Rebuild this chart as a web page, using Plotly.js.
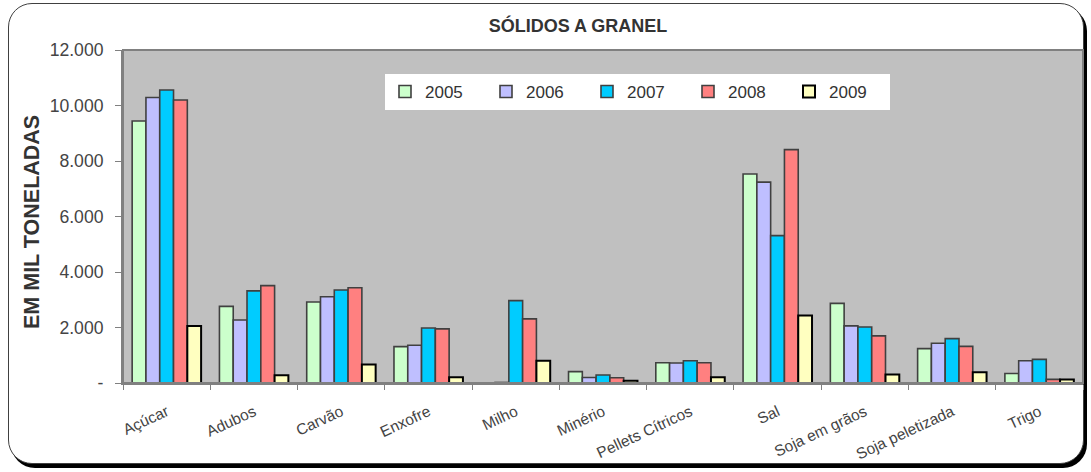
<!DOCTYPE html>
<html>
<head>
<meta charset="utf-8">
<script src="https://cdn.plot.ly/plotly-3.0.1.min.js"></script>
<style>
  html, body { margin: 0; padding: 0; background: #ffffff; }
  #wrap { position: relative; width: 1091px; height: 472px; overflow: hidden; }
  #frame { position: absolute; left: 8px; top: 3px; width: 1074px; height: 459px;
           border: 1.5px solid #404040; border-radius: 24px; box-shadow: 3px 4px 0 #000; background: #fff; }
  #chart { position: absolute; left: 0; top: 0; width: 1091px; height: 472px; }
</style>
</head>
<body>
<div id="wrap">
  <div id="frame"></div>
  <div id="chart"></div>
</div>
<script>
const categories = ["Açúcar", "Adubos", "Carvão", "Enxofre", "Milho", "Minério",
  "Pellets Cítricos", "Sal", "Soja em grãos", "Soja peletizada", "Trigo"];
const years = ["2005", "2006", "2007", "2008", "2009"];
const v2005 = [9440, 2760, 2920, 1310, 0, 410, 730, 7530, 2870, 1240, 340];
const v2006 = [10290, 2270, 3110, 1360, 20, 200, 720, 7240, 2060, 1430, 800];
const v2007 = [10560, 3320, 3350, 1980, 2970, 290, 800, 5310, 2020, 1600, 850];
const v2008 = [10200, 3510, 3430, 1950, 2310, 190, 730, 8410, 1700, 1320, 130];
const v2009 = [2050, 280, 670, 210, 800, 80, 210, 2430, 310, 390, 130];
const yTicks = [0, 2000, 4000, 6000, 8000, 10000, 12000];
const yTickText = ["-", "2.000", "4.000", "6.000", "8.000", "10.000", "12.000"];

const series = [v2005, v2006, v2007, v2008, v2009];
const fills = ["#CCFFCC", "#BFBFFF", "#00CCFF", "#FF8080", "#FFFFC0"];
const lines = ["#404040", "#404040", "#404040", "#404040", "#000000"];
const lineW = [1.6, 1.6, 1.6, 1.6, 2];

const REG = "Liberation Sans, Arial, sans-serif";

const traces = series.map((vals, i) => ({
  type: "bar",
  name: years[i],
  x: categories,
  y: vals,
  marker: { color: fills[i], line: { color: lines[i], width: lineW[i] } },
  hoverinfo: "x+y+name"
}));

const W = 1091, H = 472;
const L = 123, R = W - 1083, T = 50, B = H - 383;
const pw = W - L - R, ph = H - T - B;

const layout = {
  width: W, height: H,
  margin: { l: L, r: R, t: T, b: B, pad: 0 },
  paper_bgcolor: "rgba(0,0,0,0)",
  plot_bgcolor: "#C0C0C0",
  barmode: "group",
  bargap: 0.21,
  bargroupgap: 0,
  font: { family: REG, color: "#3a3a3a" },
  title: {
    text: "<b>SÓLIDOS A GRANEL</b>",
    font: { size: 18, color: "#333333", family: REG },
    x: 578 / W, xref: "container", xanchor: "center",
    y: 1 - 26 / H, yref: "container", yanchor: "middle"
  },
  xaxis: {
    type: "category",
    tickangle: -25,
    ticks: "outside",
    tickson: "boundaries",
    ticklen: 5,
    tickcolor: "#808080",
    showline: true, linecolor: "#808080", linewidth: 2,
    tickfont: { size: 15.5, color: "#444444", family: REG },
    ticklabelstandoff: 12,
    showgrid: false, zeroline: false,
    automargin: false
  },
  yaxis: {
    range: [0, 12000],
    tickvals: yTicks,
    ticktext: yTickText,
    ticks: "outside",
    ticklen: 6,
    tickcolor: "#808080",
    showline: true, linecolor: "#808080", linewidth: 2,
    tickfont: { size: 17.6, color: "#444444", family: REG },
    ticklabelstandoff: 8,
    showgrid: false, zeroline: false,
    automargin: false
  },
  annotations: [
    { text: "<b>EM MIL TONELADAS</b>", textangle: -90, showarrow: false,
      xref: "paper", yref: "paper",
      x: (32 - L) / pw, xanchor: "center",
      y: (383 - 222) / ph, yanchor: "middle",
      font: { size: 21.5, color: "#333333", family: REG } }
  ],
  showlegend: true,
  legend: {
    orientation: "h",
    x: (385 - L) / pw, xanchor: "left",
    y: (383 - 74) / ph, yanchor: "top",
    bgcolor: "#FFFFFF",
    borderwidth: 0,
    font: { size: 17, color: "#333333", family: REG },
    entrywidth: 56, entrywidthmode: "pixels",
    traceorder: "normal",
    itemclick: false, itemdoubleclick: false
  },
  shapes: [
    { type: "rect", xref: "paper", yref: "paper", x0: 0, x1: 1, y0: 0, y1: 1,
      line: { color: "#808080", width: 2 }, fillcolor: "rgba(0,0,0,0)", layer: "above" }
  ]
};

Plotly.newPlot("chart", traces, layout, { displayModeBar: false, staticPlot: true });
</script>
</body>
</html>
